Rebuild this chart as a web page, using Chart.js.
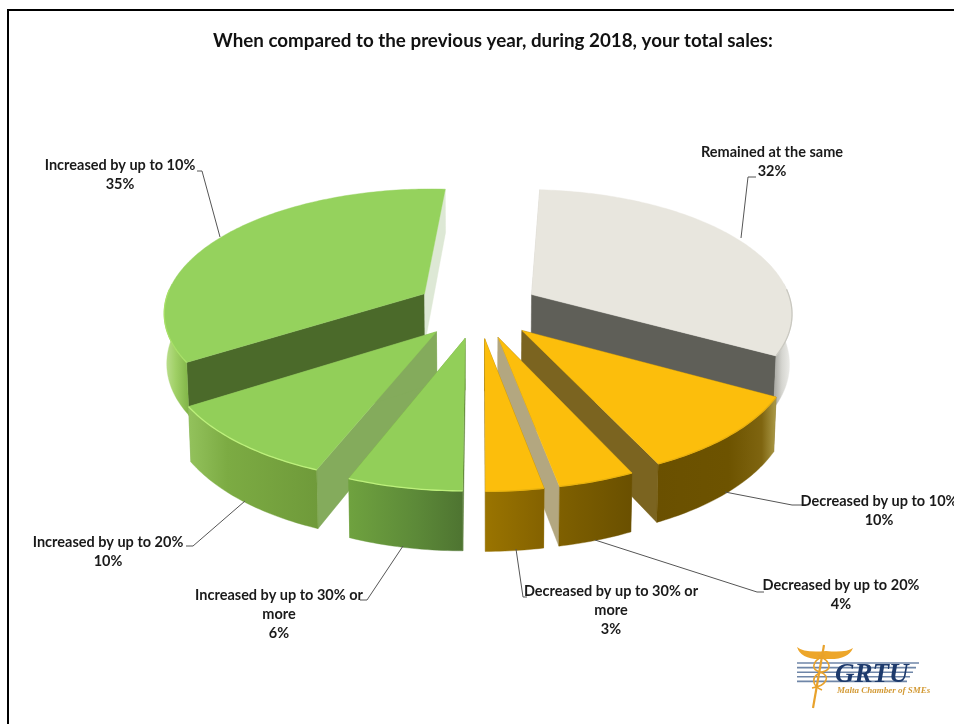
<!DOCTYPE html>
<html><head><meta charset="utf-8">
<style>
html,body{margin:0;padding:0;background:#fff;overflow:hidden}
#frame{position:absolute;left:7px;top:9px;width:960px;height:730px;border-left:2px solid #000;border-top:2px solid #000;box-sizing:border-box}
canvas{position:absolute;left:0;top:0;filter:blur(0.35px)}
</style>
<script src="https://cdn.jsdelivr.net/npm/chart.js@4"></script>
</head><body>
<div id="frame"></div>
<canvas id="c" width="954" height="724"></canvas>
<script>
const chartTitle = 'When compared to the previous year, during 2018, your total sales:';
const categories = ['Remained at the same','Decreased by up to 10%','Decreased by up to 20%','Decreased by up to 30% or more','Increased by up to 30% or more','Increased by up to 20%','Increased by up to 10%'];
const shares = [32,10,4,3,6,10,35];

// styling, per slice
const topColors = ['#e8e6de','#fcbe0c','#fcbe0c','#fcbe0c','#92cf59','#92cf59','#95d25d'];
const rimColors = ['#c9c8c0','#e9b010','#e8b20e','#e8b20e','#bdf07c','#bdf07c','#a8e068'];
const startWall = ['#cfcdc5','#7b6420','#7b6420','#9a7400','#5a7e35','#84ab5c','#4b6a2a'];
const endWall   = ['#5f5f58','#7b6420','#b3a780','#866400','#6fa23f','#84ab5c','#dde8d5'];
const outerStops = [
  [[0,'#8d8d86'],[0.93,'#a9a9a3'],[0.96,'#d5d5d0'],[1,'#f1f1ee']],
  [[0,'#6a5000'],[0.6,'#6d5300'],[0.88,'#7f6510'],[1,'#ab9a48']],
  [[0,'#7f6000'],[1,'#6a5000']],
  [[0,'#9a7400'],[1,'#846200']],
  [[0,'#6fa23f'],[0.6,'#5c8938'],[1,'#4e7431']],
  [[0,'#93c25c'],[0.3,'#7cab43'],[1,'#6f9a3a']],
  [[0,'#bfe093'],[0.04,'#a0d066'],[0.09,'#7eb245'],[1,'#6f9a3a']]
];
// projection of the pie plane onto the page
const sliceShift = [-2.5,-2,-2,-1.5,-3,-3,-3];
const view = {cx:480, R:289, explode:69, planeY:2125, k:1.92e6, horizon:595, depthAtFront:60, frontS:1086, converge:0.008};
// label layout: text centre, first line centre y, leader polyline
const labelLayout = [
  {x:772,y:152,line:[[741,238],[748,177],[756,177]]},
  {x:879,y:501,line:[[725,492],[792,505],[802,505]]},
  {x:841,y:585,line:[[595,540],[757,592],[764,592]]},
  {x:611,y:591,line:[[516,549],[523,597],[527,597]]},
  {x:279,y:595,line:[[403,546],[367,600],[360,600]]},
  {x:108,y:542,line:[[245,501],[193,546],[186,546]]},
  {x:120,y:165,line:[[220,237],[202,171],[197,171]]}
];
const labelFont = 'bold 14.5px Lato';
const labelLead = 19.2;
const wrapWidth = 180;

function project(px, py){
  const s = view.k/(view.planeY - py);
  return [view.cx + px*s/1000, s - view.horizon];
}
function drop(p){
  const d = view.depthAtFront*(p[1]+view.horizon)/view.frontS;
  return [p[0]+(view.cx-p[0])*view.converge, p[1]+d];
}
function poly(ctx, pts, fill){
  ctx.beginPath();
  pts.forEach((p,i)=> i?ctx.lineTo(p[0],p[1]):ctx.moveTo(p[0],p[1]));
  ctx.closePath();
  ctx.fillStyle = fill; ctx.fill();
  ctx.strokeStyle = fill; ctx.lineWidth = 0.4; ctx.stroke();
}
function sliceGeometry(arc, i){
  const a0 = arc.startAngle, a1 = arc.endAngle, mid = (a0+a1)/2;
  const ox = Math.cos(mid)*view.explode + sliceShift[i], oy = Math.sin(mid)*view.explode;
  const rim = [], front = [], lit = [];
  const n = Math.max(8, Math.ceil((a1-a0)*60));
  for(let j=0;j<=n;j++){
    const a = a0+(a1-a0)*j/n;
    const p = project(ox+Math.cos(a)*view.R, oy+Math.sin(a)*view.R);
    rim.push(p);
    if(Math.sin(a)>-0.1) front.push(p);
    if(Math.sin(a)>-0.05) lit.push(p);
  }
  return {tip:project(ox,oy), rim, front, lit, depth:oy};
}
function drawSlice(ctx, g, i){
  const {tip, rim, front, lit} = g;
  const lowAll = rim.map(drop);
  const xs = rim.concat(lowAll).map(p=>p[0]);
  const gr = ctx.createLinearGradient(Math.min(...xs),0,Math.max(...xs),0);
  outerStops[i].forEach(s=>gr.addColorStop(s[0],s[1]));
  const lowTip = drop(tip), first = rim[0], last = rim[rim.length-1];
  poly(ctx, [tip,first,drop(first),lowTip], startWall[i]);
  poly(ctx, [tip,last,drop(last),lowTip], endWall[i]);
  poly(ctx, front.concat(front.map(drop).reverse()), gr);
  poly(ctx, [tip].concat(rim), topColors[i]);
  ctx.beginPath();
  lit.forEach((p,j)=> j?ctx.lineTo(p[0],p[1]):ctx.moveTo(p[0],p[1]));
  ctx.strokeStyle = rimColors[i]; ctx.lineWidth = 1.3; ctx.stroke();
}
function wrap(ctx, text, max){
  const out=[]; let cur='';
  text.split(' ').forEach(w=>{
    const t = cur? cur+' '+w : w;
    if(ctx.measureText(t).width>max && cur){out.push(cur);cur=w;} else cur=t;
  });
  out.push(cur); return out;
}
function drawLogo(ctx){
  ctx.save();
  ctx.strokeStyle='#6f86a8'; ctx.lineWidth=1.6;
  for(let k=0;k<5;k++){
    const y=663+k*4.6;
    ctx.beginPath(); ctx.moveTo(797,y); ctx.lineTo(919-k*3,y); ctx.stroke();
  }
  ctx.strokeStyle='#e8a22c'; ctx.fillStyle='#eda62a';
  ctx.beginPath(); ctx.moveTo(797,647);
  ctx.quadraticCurveTo(801,660,822,659); ctx.lineTo(827,659);
  ctx.quadraticCurveTo(848,660,853,648); ctx.quadraticCurveTo(846,653,826,651);
  ctx.quadraticCurveTo(804,653,797,647); ctx.closePath(); ctx.fill();
  ctx.lineWidth=2.2; ctx.beginPath(); ctx.moveTo(824,645); ctx.lineTo(813,708); ctx.stroke();
  ctx.lineWidth=1.6; ctx.beginPath(); ctx.moveTo(825,655);
  ctx.bezierCurveTo(810,662,812,670,820,672); ctx.bezierCurveTo(832,676,826,686,812,688); ctx.stroke();
  ctx.beginPath(); ctx.moveTo(818,655);
  ctx.bezierCurveTo(832,662,832,670,822,672); ctx.bezierCurveTo(810,676,812,686,822,690); ctx.stroke();
  ctx.textAlign='left'; ctx.textBaseline='alphabetic';
  ctx.fillStyle='#1d3a6c'; ctx.font='italic bold 27px "Liberation Serif"';
  ctx.fillText('GRTU',835,682);
  ctx.fillStyle='#d39a35'; ctx.font='italic bold 9px "Liberation Serif"';
  ctx.fillText('Malta Chamber of SMEs',837,693);
  ctx.restore();
}
const pie3d = {
  id:'pie3d',
  beforeDatasetDraw(chart,args){
    const ctx = chart.ctx;
    const arcs = args.meta.data;
    const gs = arcs.map((a,i)=>({i, g:sliceGeometry(a,i)}));
    gs.sort((a,b)=>a.g.depth-b.g.depth);
    ctx.save();
    gs.forEach(o=>drawSlice(ctx,o.g,o.i));
    ctx.restore();
    return false;
  },
  afterDatasetsDraw(chart){
    const ctx = chart.ctx;
    ctx.save();
    ctx.font = labelFont; ctx.textAlign='center'; ctx.textBaseline='middle';
    categories.forEach((name,i)=>{
      const l = labelLayout[i];
      ctx.strokeStyle='#555'; ctx.lineWidth=1;
      ctx.beginPath();
      l.line.forEach((p,j)=> j?ctx.lineTo(p[0],p[1]):ctx.moveTo(p[0],p[1]));
      ctx.stroke();
      ctx.fillStyle='#1a1a1a';
      const lines = wrap(ctx,name,wrapWidth).concat([shares[i]+'%']);
      lines.forEach((t,k)=>ctx.fillText(t,l.x,l.y+k*labelLead));
    });
    ctx.restore();
    drawLogo(ctx);
  }
};
new Chart(document.getElementById('c'),{
  type:'pie',
  data:{labels:categories,datasets:[{data:shares,backgroundColor:topColors,borderWidth:0}]},
  options:{
    responsive:false,animation:false,
    rotation:3.6,
    layout:{padding:{left:32}},
    plugins:{
      legend:{display:false},tooltip:{enabled:false},
      title:{display:true,text:chartTitle,color:'#111',font:{family:'Lato',weight:'bold',size:18.8},padding:{top:30,bottom:10}}
    }
  },
  plugins:[pie3d]
});
</script>
</body></html>
